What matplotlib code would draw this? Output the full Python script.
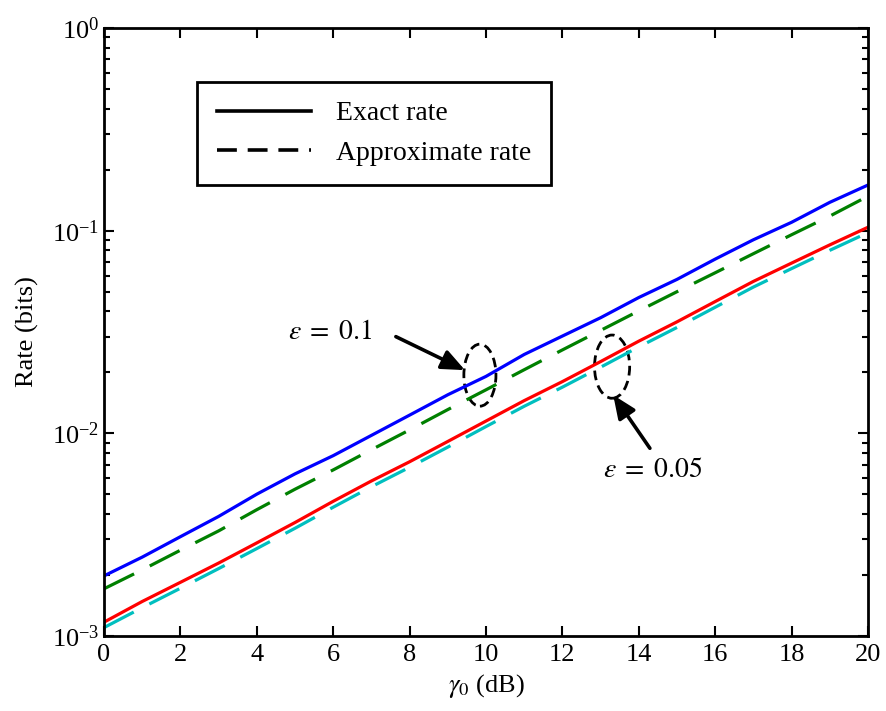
import numpy as np
import matplotlib
matplotlib.use('Agg')
import matplotlib.pyplot as plt
from matplotlib.patches import Ellipse
from matplotlib.lines import Line2D

plt.rcParams['font.family'] = ['Liberation Serif', 'DejaVu Serif']
plt.rcParams['mathtext.fontset'] = 'stix'

# SNR in dB
gamma0 = list(range(0, 21))

# eps = 0.1
exact_01 = [0.00198, 0.00245, 0.00309, 0.00389, 0.00501, 0.00631, 0.00776, 0.00977,
            0.0123, 0.0155, 0.0191, 0.0245, 0.0302, 0.0372, 0.0468, 0.0575, 0.0724,
            0.0902, 0.110, 0.138, 0.168]
approx_01 = [0.00171, 0.00212, 0.00265, 0.00330, 0.00420, 0.00530, 0.00660, 0.00830,
             0.0104, 0.0131, 0.0164, 0.0206, 0.0258, 0.0322, 0.0402, 0.0500, 0.0620,
             0.0770, 0.0955, 0.118, 0.148]
# eps = 0.05
exact_005 = [0.00117, 0.00148, 0.00184, 0.00229, 0.00288, 0.00363, 0.00462, 0.00582,
             0.00724, 0.00912, 0.0115, 0.0145, 0.0180, 0.0226, 0.0285, 0.0355, 0.0447,
             0.0562, 0.0692, 0.0851, 0.104]
approx_005 = [0.00110, 0.00138, 0.00172, 0.00215, 0.00270, 0.00340, 0.00432, 0.00545,
              0.00680, 0.00855, 0.0108, 0.0136, 0.0169, 0.0212, 0.0267, 0.0333, 0.0419,
              0.0527, 0.0650, 0.0800, 0.0978]

fig = plt.figure(figsize=(8.86, 7.11), dpi=100)
ax = fig.add_axes([0.1174, 0.1055, 0.8623, 0.8551])

lw = 2.3
ax.semilogy(gamma0, exact_01, color='#0000ff', lw=lw)
ax.semilogy(gamma0, approx_01, color='#008000', lw=lw, dashes=(10.5, 5.5))
ax.semilogy(gamma0, exact_005, color='#ff0000', lw=lw)
ax.semilogy(gamma0, approx_005, color='#00bfbf', lw=lw, dashes=(10.5, 5.5))

ax.set_xlim(0, 20)
ax.set_ylim(1e-3, 1)
ax.set_xticks(range(0, 21, 2))
ax.tick_params(which='both', direction='in', top=True, right=True, labelsize=19, width=1.5)
ax.tick_params(which='major', length=7)
ax.tick_params(which='minor', length=4)
ax.tick_params(axis='x', pad=6)
for s in ax.spines.values():
    s.set_linewidth(2)

ax.set_xlabel(r'$\gamma_0$ (dB)', fontsize=19)
ax.set_ylabel('Rate (bits)', fontsize=19)
ax.yaxis.set_label_coords(-0.085, 0.5)

# legend
h = [Line2D([], [], color='k', lw=2.6),
     Line2D([], [], color='k', lw=2.6, dashes=(5.5, 3))]
leg = ax.legend(h, ['Exact rate', 'Approximate rate'], loc='upper left',
                bbox_to_anchor=(0.122, 0.912), fontsize=20, fancybox=False,
                framealpha=1, edgecolor='k', borderpad=0.7, handlelength=3.4,
                handletextpad=0.9, labelspacing=0.5, borderaxespad=0)
leg.get_frame().set_linewidth(2)

# annotations
ax.add_patch(Ellipse((0.492, 0.429), 0.042, 0.102, transform=ax.transAxes,
                     fill=False, ls=(0, (3.5, 2)), lw=2, color='k'))
ax.add_patch(Ellipse((0.665, 0.443), 0.046, 0.104, transform=ax.transAxes,
                     fill=False, ls=(0, (3.5, 2)), lw=2, color='k'))
arrow = dict(arrowstyle='-|>,head_length=1.4,head_width=0.6',
             color='k', lw=2.6, shrinkA=0, shrinkB=0)
ax.annotate('', xy=(9.45, 0.0205), xytext=(7.64, 0.030), arrowprops=arrow)
ax.annotate('', xy=(13.33, 0.01545), xytext=(14.29, 0.00844), arrowprops=arrow)
ax.text(5.92, 0.0313, r'$\varepsilon\;=\;0.1$', fontsize=20, ha='center', va='center')
ax.text(14.35, 0.00659, r'$\varepsilon\;=\;0.05$', fontsize=20, ha='center', va='center')

fig.savefig('out.png', dpi=100)
